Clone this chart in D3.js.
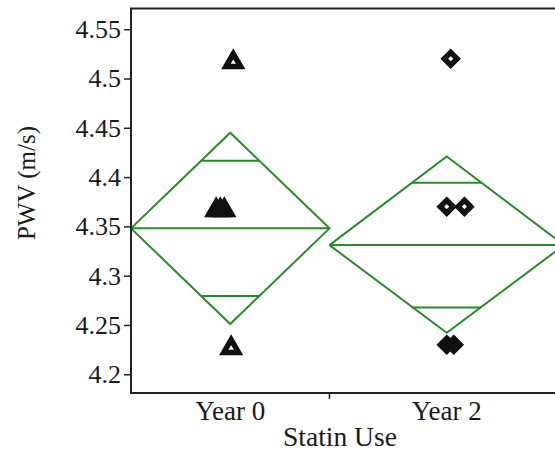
<!DOCTYPE html>
<html>
<head>
<meta charset="utf-8">
<script src="https://cdn.jsdelivr.net/npm/d3@7"></script>
<style>
  html, body { margin: 0; padding: 0; background: #fff; }
  svg { display: block; }
</style>
</head>
<body>
<svg id="chart" width="555" height="451"></svg>
<script>
// Groups and their sample sizes (JMP scales group width by n)
const groups = ["Year 0", "Year 2"];
const groupN = [11, 13];

// Means diamonds: mean, lower and upper 95% CI
const means = [4.348, 4.331];
const ciLow = [4.251, 4.242];
const ciHigh = [4.445, 4.421];

// Observations per group: value and jitter (in units of n along the x axis)
const obsGroup = [0, 0, 0, 0, 0, 1, 1, 1, 1, 1];
const obsValue = [4.52, 4.37, 4.37, 4.37, 4.23, 4.52, 4.37, 4.37, 4.23, 4.23];
const obsJitter = [0.17, -0.78, -0.55, -0.33, 0.05, 0.22, 0.0, 0.98, 0.0, 0.39];

const yTicks = [4.2, 4.25, 4.3, 4.35, 4.4, 4.45, 4.5, 4.55];

const FONT = "'Liberation Serif'";
const svg = d3.select("#chart");
const mLeft = 131, mRight = 564, mTop = 8.5, mBottom = 393;
const green = "#2b8a2b";

const totalN = d3.sum(groupN);
const starts = [0, ...d3.cumsum(groupN)];
const x = d3.scaleLinear().domain([0, totalN]).range([mLeft, mRight]);
const y = d3.scaleLinear().domain([4.181, 4.571]).range([mBottom, mTop]);

function styleText(sel, size) {
  return sel.style("font-family", FONT).style("font-size", size + "px").style("fill", "#1a1a1a");
}

svg.append("clipPath").attr("id", "plotclip")
  .append("rect").attr("x", mLeft).attr("y", mTop).attr("width", mRight - mLeft).attr("height", mBottom - mTop);

const plot = svg.append("g").attr("clip-path", "url(#plotclip)");

// Means diamonds with overlap marks
groups.forEach((g, i) => {
  const x0 = x(starts[i]), x1 = x(starts[i + 1]), xc = (x0 + x1) / 2;
  const m = means[i], lo = ciLow[i], hi = ciHigh[i];
  const gg = plot.append("g").attr("fill", "none").attr("stroke", green).attr("stroke-width", 2);
  gg.append("path").attr("d", d3.line()([[x0, y(m)], [xc, y(hi)], [x1, y(m)], [xc, y(lo)], [x0, y(m)]]));
  gg.append("line").attr("x1", x0).attr("x2", x1).attr("y1", y(m)).attr("y2", y(m));
  const half = (hi - lo) / 2 / Math.SQRT2;
  [m + half, m - half].forEach(v => {
    const f = Math.abs(v - m) / (hi - m);
    const hw = (1 - f) * (x1 - x0) / 2;
    gg.append("line").attr("x1", xc - hw).attr("x2", xc + hw).attr("y1", y(v)).attr("y2", y(v));
  });
});

// Observation markers: thick-outlined triangles (Year 0) and diamonds (Year 2)
const tri = "M0,-5L7.4,7.8L-7.4,7.8Z";
const dia = "M0,-6.4L6.4,0L0,6.4L-6.4,0Z";
obsValue.forEach((v, k) => {
  const gi = obsGroup[k];
  const xc = x(starts[gi] + groupN[gi] / 2 + obsJitter[k]);
  plot.append("path")
    .attr("d", gi === 0 ? tri : dia)
    .attr("transform", `translate(${xc},${y(v)})`)
    .attr("fill", "none")
    .attr("stroke", "#111")
    .attr("stroke-width", 5.5)
    .attr("stroke-linejoin", "miter")
    .attr("stroke-miterlimit", 10);
});

// Frame border
svg.append("rect").attr("x", mLeft).attr("y", mTop).attr("width", mRight - mLeft).attr("height", mBottom - mTop)
  .attr("fill", "none").attr("stroke", "#222").attr("stroke-width", 2);

// Y axis
const yAxis = svg.append("g").attr("transform", `translate(${mLeft},0)`)
  .call(d3.axisLeft(y).tickValues(yTicks).tickFormat(d => String(+d.toFixed(2))).tickSize(7).tickPadding(3));
yAxis.select(".domain").remove();
yAxis.selectAll("line").attr("stroke", "#222").attr("stroke-width", 1.5);
styleText(yAxis.selectAll("text"), 26);

// X axis: group labels and separator tick
groups.forEach((g, i) => {
  const xc = x(starts[i] + groupN[i] / 2);
  styleText(svg.append("text").attr("x", xc).attr("y", 420).attr("text-anchor", "middle"), 27).text(g);
});
starts.slice(1, -1).forEach(s => {
  svg.append("line").attr("x1", x(s)).attr("x2", x(s)).attr("y1", mBottom).attr("y2", mBottom + 6)
    .attr("stroke", "#222").attr("stroke-width", 1.5);
});

// Axis titles
styleText(svg.append("text").attr("x", 340).attr("y", 446).attr("text-anchor", "middle"), 27.5).text("Statin Use");
styleText(svg.append("text").attr("transform", "translate(35,183) rotate(-90)").attr("text-anchor", "middle"), 25)
  .text("PWV (m/s)");
</script>
</body>
</html>
